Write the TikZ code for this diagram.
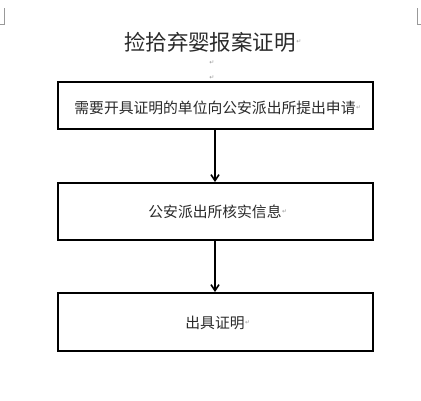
\documentclass[tikz,border=0pt]{standalone}
\usepackage{fontspec}
\newfontfamily\cjk{Noto Sans CJK SC}
\newfontfamily\sym{DejaVu Sans}
\usetikzlibrary{arrows.meta}
\definecolor{txt}{HTML}{2a2a2a}
\definecolor{mk}{HTML}{999999}
\tikzset{
  stepbox/.style={draw=black, line width=1.8pt, minimum width=315pt, minimum height=48pt, inner sep=0pt},
  flow/.style={draw=black, line width=1.8pt, -{Straight Barb[length=6pt,width=8pt,line width=1.6pt]}},
  lbl/.style={text=txt, inner sep=0pt, font=\cjk\fontsize{14.8}{15}\selectfont},
  ret/.style={text=mk, font=\sym\fontsize{6}{6}\selectfont, inner sep=0pt}
}
\begin{document}
\begin{tikzpicture}[x=1pt,y=-1pt]
\useasboundingbox (0,0) rectangle (421,400);
\fill[white] (0,0) rectangle (421,400);
% page corner marks
\draw[mk, line width=0.6pt] (4,8) -- (4,24) -- (0,24);
\draw[mk, line width=0.6pt] (417,8) -- (417,24) -- (421,24);
% title
\node[text=txt, font=\cjk\fontsize{21.5}{22}\selectfont, inner sep=0pt] (title) at (210,42) {捡拾弃婴报案证明};
\node[ret, anchor=west] (r0) at (title.east) {↵};
\node[ret] (r1) at (212,63) {↵};
\node[ret] (r2) at (212,78) {↵};
% boxes
\node[stepbox, minimum height=47pt] (b1) at (215.5,105.5) {};
\node[lbl] (t1) at (215,108) {需要开具证明的单位向公安派出所提出申请};
\node[ret, anchor=west] at (t1.east) {↵};
\node[stepbox, minimum height=57pt] (b2) at (215.5,211.5) {};
\node[lbl] (t2) at (215,212) {公安派出所核实信息};
\node[ret, anchor=west] at (t2.east) {↵};
\node[stepbox, minimum height=58pt] (b3) at (215.5,322) {};
\node[lbl] (t3) at (215,323) {出具证明};
\node[ret, anchor=west] at (t3.east) {↵};
% arrows
\draw[flow] (b1.south -| 215,0) -- (b2.north -| 215,0);
\draw[flow] (b2.south -| 215,0) -- (b3.north -| 215,0);
\end{tikzpicture}
\end{document}
